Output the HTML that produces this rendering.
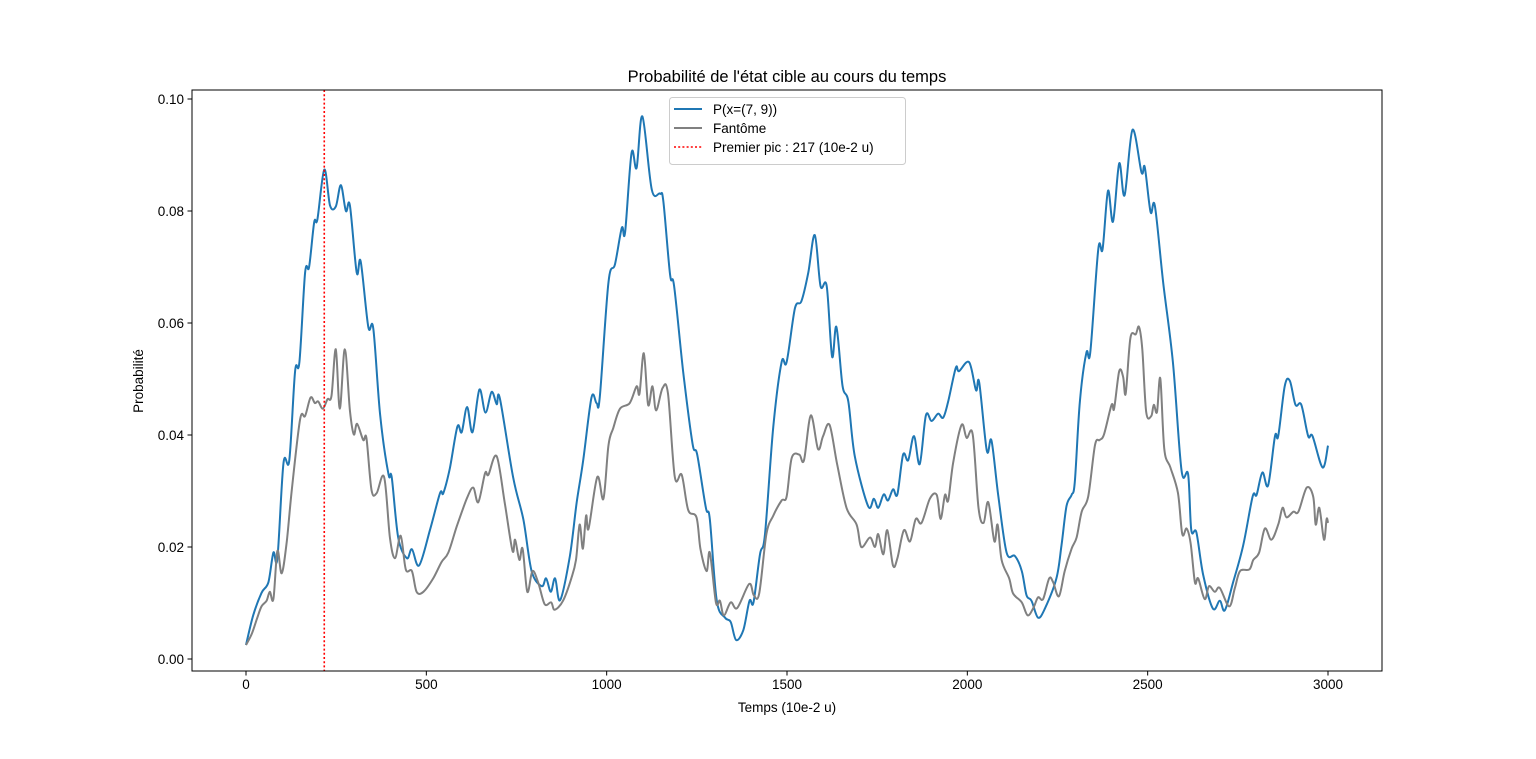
<!DOCTYPE html>
<html><head><meta charset="utf-8"><style>
body{margin:0;background:#fff}
svg text{font-family:"Liberation Sans","DejaVu Sans",sans-serif;fill:#000}
</style></head><body>
<svg id="chart" width="1536" height="754" xmlns="http://www.w3.org/2000/svg">
<rect width="1536" height="754" fill="#fff"/>
<text x="787" y="82" font-size="16.5" text-anchor="middle">Probabilité de l'état cible au cours du temps</text>
<g id="plot"></g>
<text x="787" y="712" font-size="13.5" text-anchor="middle">Temps (10e-2 u)</text>
<text x="143" y="381" font-size="13.5" text-anchor="middle" transform="rotate(-90 143 381)">Probabilité</text>
</svg>
<script>
const xTicks=[0,500,1000,1500,2000,2500,3000];
const yTicks=[0,0.02,0.04,0.06,0.08,0.10];
const yTickLabels=["0.00","0.02","0.04","0.06","0.08","0.10"];
const peakT=217;
const blueT=[0,20,43,62,76,87,104,120,136,148,164,175,189,198,217,233,249,263,277,288,307,318,339,353,372,395,404,422,446,460,480,510,538,547,565,586,598,613,628,647,664,681,695,704,741,769,792,820,832,845,857,871,898,917,935,958,972,981,1005,1023,1042,1051,1069,1083,1099,1125,1148,1157,1176,1187,1212,1238,1251,1275,1286,1305,1328,1344,1359,1379,1396,1407,1425,1439,1462,1485,1499,1522,1540,1559,1577,1593,1610,1625,1637,1654,1670,1688,1725,1741,1753,1768,1780,1794,1806,1822,1836,1852,1868,1885,1901,1919,1933,1947,1968,1977,2005,2024,2033,2054,2067,2086,2109,2132,2151,2164,2178,2196,2215,2247,2261,2275,2289,2298,2312,2330,2341,2363,2375,2390,2404,2421,2436,2458,2483,2492,2508,2520,2543,2570,2594,2612,2621,2635,2654,2681,2700,2714,2737,2765,2791,2802,2818,2834,2853,2862,2880,2894,2910,2926,2945,2957,2985,3000];
const blueV=[0.0025,0.0078,0.0118,0.0137,0.019,0.018,0.035,0.0355,0.0514,0.053,0.069,0.070,0.078,0.0785,0.0874,0.081,0.0808,0.0846,0.080,0.081,0.069,0.071,0.0593,0.059,0.0435,0.033,0.0325,0.0217,0.018,0.0196,0.0167,0.023,0.0296,0.0296,0.034,0.0415,0.0405,0.045,0.0405,0.0481,0.044,0.0477,0.0455,0.0465,0.0323,0.0249,0.0157,0.013,0.0144,0.012,0.0144,0.0105,0.0184,0.028,0.0355,0.0467,0.0457,0.0468,0.0673,0.0705,0.077,0.0762,0.0904,0.0877,0.0969,0.0838,0.0831,0.0818,0.0686,0.0666,0.0514,0.0385,0.0365,0.027,0.025,0.0105,0.0074,0.0066,0.0034,0.0052,0.0104,0.0101,0.0187,0.0223,0.0415,0.053,0.053,0.0626,0.0639,0.069,0.0757,0.0666,0.0666,0.054,0.0593,0.0488,0.046,0.0362,0.0273,0.0286,0.027,0.0294,0.0283,0.0303,0.0294,0.0365,0.0355,0.0398,0.0348,0.0435,0.0425,0.0438,0.0431,0.046,0.052,0.0514,0.053,0.048,0.0494,0.0372,0.039,0.029,0.019,0.0184,0.0157,0.0114,0.0104,0.0074,0.009,0.0144,0.0203,0.0273,0.0293,0.0316,0.046,0.0547,0.0548,0.0732,0.0732,0.0836,0.0781,0.0885,0.0828,0.0945,0.0869,0.0878,0.0798,0.0809,0.0672,0.053,0.0336,0.033,0.023,0.0226,0.015,0.009,0.0104,0.0087,0.0137,0.0203,0.029,0.0293,0.0333,0.031,0.0398,0.0398,0.0487,0.0497,0.0454,0.0454,0.0398,0.0398,0.0342,0.0381];
const grayT=[0,16,30,43,57,66,76,87,99,113,127,150,164,179,191,200,213,226,237,249,260,274,288,299,308,325,334,348,362,383,399,413,429,443,460,473,492,519,542,561,584,612,630,644,663,672,695,718,739,746,758,767,780,794,810,828,846,856,879,902,915,925,934,943,950,974,991,1005,1018,1037,1064,1083,1091,1103,1115,1127,1137,1155,1170,1189,1208,1226,1249,1260,1277,1286,1303,1314,1325,1344,1362,1395,1408,1423,1443,1462,1485,1499,1513,1534,1547,1566,1586,1600,1618,1639,1665,1693,1706,1730,1744,1753,1767,1778,1794,1806,1824,1841,1857,1873,1896,1915,1926,1938,1947,1961,1984,1998,2015,2031,2045,2058,2075,2084,2095,2116,2127,2151,2167,2183,2196,2210,2227,2238,2254,2270,2289,2303,2317,2335,2354,2367,2379,2400,2407,2421,2432,2439,2452,2467,2476,2485,2496,2510,2517,2526,2535,2546,2563,2584,2596,2608,2619,2631,2640,2658,2670,2686,2700,2726,2742,2756,2782,2793,2809,2825,2843,2862,2874,2885,2904,2918,2941,2959,2966,2976,2989,2996,3000];
const grayV=[0.0025,0.0045,0.0071,0.0094,0.0104,0.012,0.0107,0.0193,0.0153,0.021,0.0302,0.0428,0.0434,0.0467,0.0457,0.046,0.0447,0.0464,0.047,0.0553,0.0447,0.0553,0.0444,0.0401,0.042,0.0391,0.0394,0.0302,0.0296,0.0325,0.0217,0.018,0.022,0.016,0.0157,0.012,0.012,0.0144,0.0173,0.019,0.0236,0.0286,0.0306,0.028,0.0332,0.0329,0.0362,0.0276,0.0193,0.0213,0.0177,0.0197,0.012,0.0157,0.0137,0.0098,0.0101,0.0088,0.0104,0.0144,0.0177,0.024,0.0197,0.0256,0.0233,0.0325,0.0286,0.0382,0.0412,0.0447,0.0457,0.0487,0.0474,0.0546,0.0454,0.0487,0.0444,0.0484,0.0474,0.0325,0.0329,0.0266,0.0253,0.0197,0.0157,0.019,0.0101,0.0104,0.0078,0.0101,0.0091,0.0134,0.0114,0.0117,0.0223,0.0256,0.0283,0.029,0.0359,0.0365,0.0355,0.0435,0.0375,0.0398,0.0418,0.0348,0.027,0.024,0.020,0.0217,0.020,0.0223,0.0187,0.023,0.0167,0.018,0.023,0.021,0.025,0.0243,0.0286,0.0293,0.025,0.0293,0.0283,0.0352,0.0418,0.0395,0.0401,0.027,0.0243,0.028,0.021,0.024,0.0177,0.0144,0.0117,0.0101,0.0078,0.0091,0.011,0.0107,0.0144,0.0137,0.0112,0.0157,0.0197,0.0217,0.0263,0.029,0.0382,0.0391,0.0401,0.0454,0.0447,0.0514,0.0504,0.0474,0.0573,0.058,0.0593,0.0553,0.0441,0.0434,0.0454,0.0441,0.0501,0.0375,0.0342,0.0296,0.0223,0.0233,0.0207,0.0137,0.0144,0.0107,0.013,0.012,0.0127,0.0094,0.0127,0.0157,0.016,0.0177,0.019,0.0233,0.0213,0.024,0.027,0.0253,0.0263,0.0263,0.0306,0.029,0.024,0.027,0.0213,0.025,0.0243];

const L=192,R=1382,T=90,B=671;
const xS=t=>246+t*(1328-246)/3000;
const yS=v=>659-v*5600;
const NS='http://www.w3.org/2000/svg';
const plot=document.getElementById('plot');
function mk(tag,attrs,parent){const e=document.createElementNS(NS,tag);for(const k in attrs)e.setAttribute(k,attrs[k]);(parent||plot).appendChild(e);return e;}

xTicks.forEach(t=>{
  const g=mk('g',{});
  
  
  mk('line',{x1:xS(t),x2:xS(t),y1:B,y2:B+4.5,stroke:'#000','stroke-width':1},g);
  const tx=mk('text',{x:xS(t),y:B+18,'font-size':13.5,'text-anchor':'middle'},g);
  tx.textContent=t;
});
yTicks.forEach((v,i)=>{
  const g=mk('g',{});
  
  
  mk('line',{x1:L-4.5,x2:L,y1:yS(v),y2:yS(v),stroke:'#000','stroke-width':1},g);
  const tx=mk('text',{x:L-8,y:yS(v)+5,'font-size':13.5,'text-anchor':'end'},g);
  tx.textContent=yTickLabels[i];
});
function path(ts,vs){
  const p=ts.map((t,i)=>[xS(t),yS(vs[i])]);
  let d='M'+p[0][0].toFixed(1)+','+p[0][1].toFixed(1);
  for(let i=0;i<p.length-1;i++){
    const p0=p[Math.max(0,i-1)],p1=p[i],p2=p[i+1],p3=p[Math.min(p.length-1,i+2)];
    const k=1/6;
    const c1=[p1[0]+(p2[0]-p0[0])*k,p1[1]+(p2[1]-p0[1])*k];
    const c2=[p2[0]-(p3[0]-p1[0])*k,p2[1]-(p3[1]-p1[1])*k];
    d+='C'+c1[0].toFixed(1)+','+c1[1].toFixed(1)+' '+c2[0].toFixed(1)+','+c2[1].toFixed(1)+' '+p2[0].toFixed(1)+','+p2[1].toFixed(1);
  }
  return d;
}
const blue=mk('path',{d:path(blueT,blueV),fill:'none',stroke:'#1f77b4','stroke-width':2,'stroke-linejoin':'round'});


const gray=mk('path',{d:path(grayT,grayV),fill:'none',stroke:'#808080','stroke-width':2,'stroke-linejoin':'round'});


const pk=mk('line',{x1:xS(peakT),x2:xS(peakT),y1:T,y2:B,stroke:'#ff0000','stroke-width':1.6,'stroke-dasharray':'2,2.2'});


const frame=mk('rect',{x:L,y:T,width:R-L,height:B-T,fill:'none',stroke:'#000','stroke-width':1});



const lg=mk('g',{});


mk('rect',{x:669.5,y:97.5,width:236,height:67,rx:3,fill:'#fff','fill-opacity':0.8,stroke:'#ccc'},lg);
const items=[['P(x=(7, 9))','#1f77b4',''],['Fantôme','#808080',''],['Premier pic : 217 (10e-2 u)','#ff0000','2,2.2']];
items.forEach((it,i)=>{
  const y=109+i*19;
  const e=mk('g',{},lg);
  
  
  const a={x1:674,x2:702,y1:y,y2:y,stroke:it[1],'stroke-width':it[2]?1.6:2};
  if(it[2])a['stroke-dasharray']=it[2];
  mk('line',a,e);
  const tx=mk('text',{x:713,y:y+5,'font-size':13.5},e);
  tx.textContent=it[0];
});
</script>
</body></html>
